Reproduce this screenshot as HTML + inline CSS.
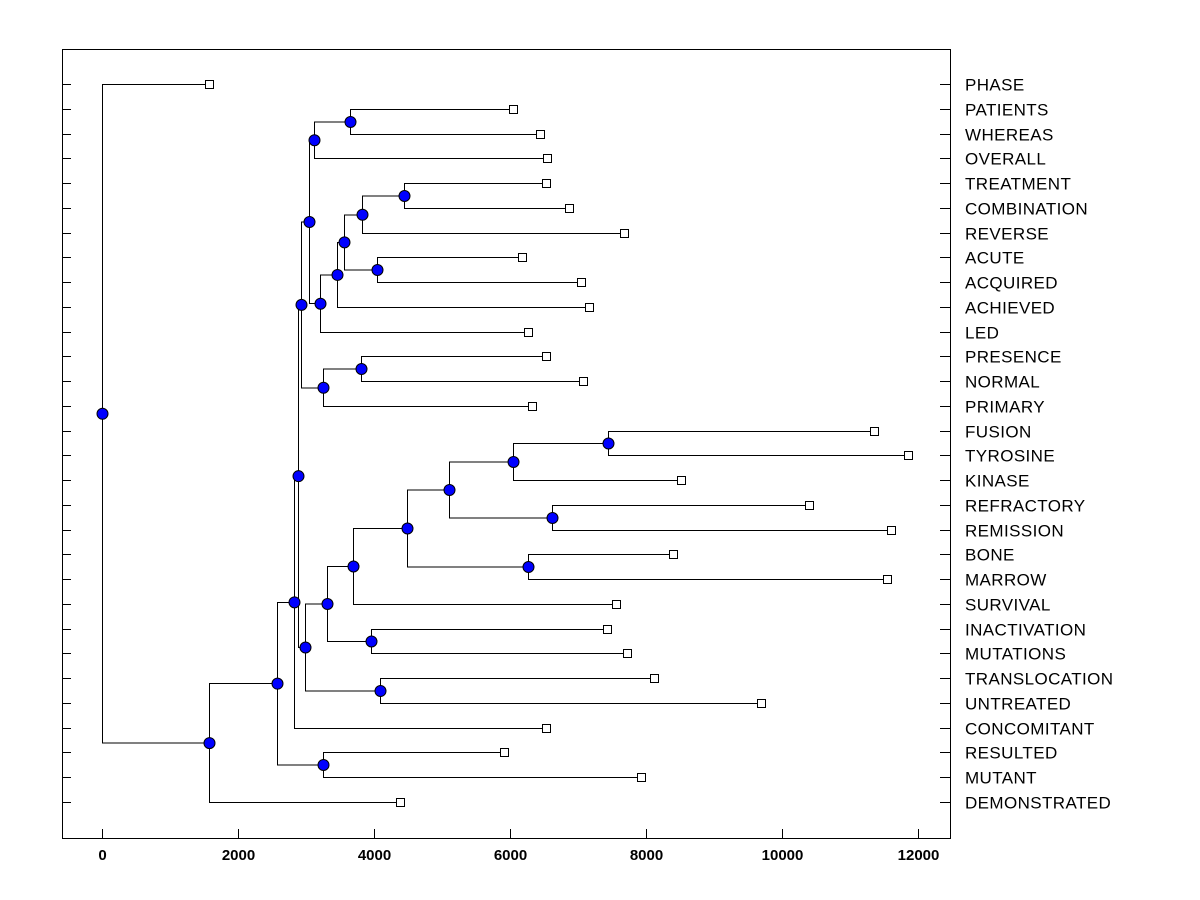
<!DOCTYPE html>
<html><head><meta charset="utf-8"><style>
html,body{margin:0;padding:0;background:#fff;}
svg{display:block;font-family:"Liberation Sans",Arial,sans-serif;}
</style></head><body>
<svg id="chart" width="1200" height="900" shape-rendering="crispEdges">
<rect x="0" y="0" width="1200" height="900" fill="#fff"/>
<g id="links"></g>
<g id="marks"></g>
<g id="axes"></g>
</svg>
<script>
const leafLabels = ["PHASE","PATIENTS","WHEREAS","OVERALL","TREATMENT","COMBINATION","REVERSE","ACUTE","ACQUIRED","ACHIEVED","LED","PRESENCE","NORMAL","PRIMARY","FUSION","TYROSINE","KINASE","REFRACTORY","REMISSION","BONE","MARROW","SURVIVAL","INACTIVATION","MUTATIONS","TRANSLOCATION","UNTREATED","CONCOMITANT","RESULTED","MUTANT","DEMONSTRATED"];
const leafValues = [1574,6044,6441,6544,6529,6868,7676,6176,7044,7162,6265,6529,7074,6324,11353,11853,8515,10397,11603,8397,11544,7559,7426,7721,8118,9691,6529,5912,7926,4382];
// internal nodes: [name, childA, childB]; children are leaf labels or node names
const nodeNames = ["P1","P2","T1","T2","A1","T3","T4","T5","T6","N1","N2","T7","O","M","N","K","L","J","H","I","F","G","D","B","C","R","E","A","ROOT"];
const nodeChildren = [
 ["PATIENTS","WHEREAS"],["P1","OVERALL"],["TREATMENT","COMBINATION"],["T1","REVERSE"],["ACUTE","ACQUIRED"],
 ["T2","A1"],["T3","ACHIEVED"],["T4","LED"],["P2","T5"],["PRESENCE","NORMAL"],["N1","PRIMARY"],["T6","N2"],
 ["FUSION","TYROSINE"],["O","KINASE"],["REFRACTORY","REMISSION"],["M","N"],["BONE","MARROW"],["K","L"],
 ["J","SURVIVAL"],["INACTIVATION","MUTATIONS"],["H","I"],["TRANSLOCATION","UNTREATED"],["F","G"],
 ["T7","D"],["B","CONCOMITANT"],["RESULTED","MUTANT"],["C","R"],["E","DEMONSTRATED"],["PHASE","A"]];
const nodeHeights = [3647,3118,4441,3824,4044,3559,3456,3206,3044,3809,3250,2926,7441,6044,6618,5103,6265,4485,3691,3956,3309,4088,2985,2882,2824,3250,2574,1574,0];
const xTicks = [0,2000,4000,6000,8000,10000,12000];

const NS="http://www.w3.org/2000/svg";
const L=62,R=950,T=49,B=838;
const xMin=-588,xMax=12470;
const sx=v=>Math.round(L+(v-xMin)/(xMax-xMin)*(R-L))+0.5;
const y0=84,step=(802-84)/29;
const sy=i=>Math.round(y0+i*step)+0.5;
function mk(tag,attrs,parent){const e=document.createElementNS(NS,tag);for(const k in attrs)e.setAttribute(k,attrs[k]);parent.appendChild(e);return e;}
const links=document.getElementById('links'),marks=document.getElementById('marks'),axes=document.getElementById('axes');
const pos={};
leafLabels.forEach((n,i)=>{pos[n]={x:sx(leafValues[i]),y:sy(i)};});
nodeNames.forEach((n,i)=>{
  const a=pos[nodeChildren[i][0]],b=pos[nodeChildren[i][1]];
  const x=sx(nodeHeights[i]);
  pos[n]={x:x,y:(a.y+b.y)/2};
  const p=mk('path',{d:`M${a.x},${a.y}H${x}V${b.y}H${b.x}`,fill:'none',stroke:'#000','stroke-width':1},links);
  
  
});
nodeNames.forEach(n=>{
  const c=mk('circle',{cx:pos[n].x,cy:pos[n].y,r:5.5,fill:'#0000ff',stroke:'#000','stroke-width':1,'shape-rendering':'auto'},marks);
  
  
});
leafLabels.forEach(n=>{
  const r=mk('rect',{x:pos[n].x-4,y:pos[n].y-4,width:8,height:8,fill:'#fff',stroke:'#000','stroke-width':1},marks);
  
  
});
const frame=mk('rect',{x:L+0.5,y:T+0.5,width:R-L,height:B-T,fill:'none',stroke:'#000','stroke-width':1},axes);


xTicks.forEach(v=>{
  const x=sx(v);
  const t=mk('line',{x1:x,y1:B,x2:x,y2:B-9,stroke:'#000'},axes);
  
  
  const tx=mk('text',{x:x,y:860,'text-anchor':'middle','font-size':15,'font-weight':'bold'},axes);
  tx.textContent=v;
  
  
});
leafLabels.forEach((n,i)=>{
  const y=sy(i);
  const t1=mk('line',{x1:L,y1:y,x2:L+9,y2:y,stroke:'#000'},axes);
  
  
  const t2=mk('line',{x1:R-10,y1:y,x2:R,y2:y,stroke:'#000'},axes);
  
  
  const tx=mk('text',{x:965,y:y+6,'font-size':17,'letter-spacing':'0.4'},axes);
  tx.textContent=n;
  
  
});
</script>
</body></html>
